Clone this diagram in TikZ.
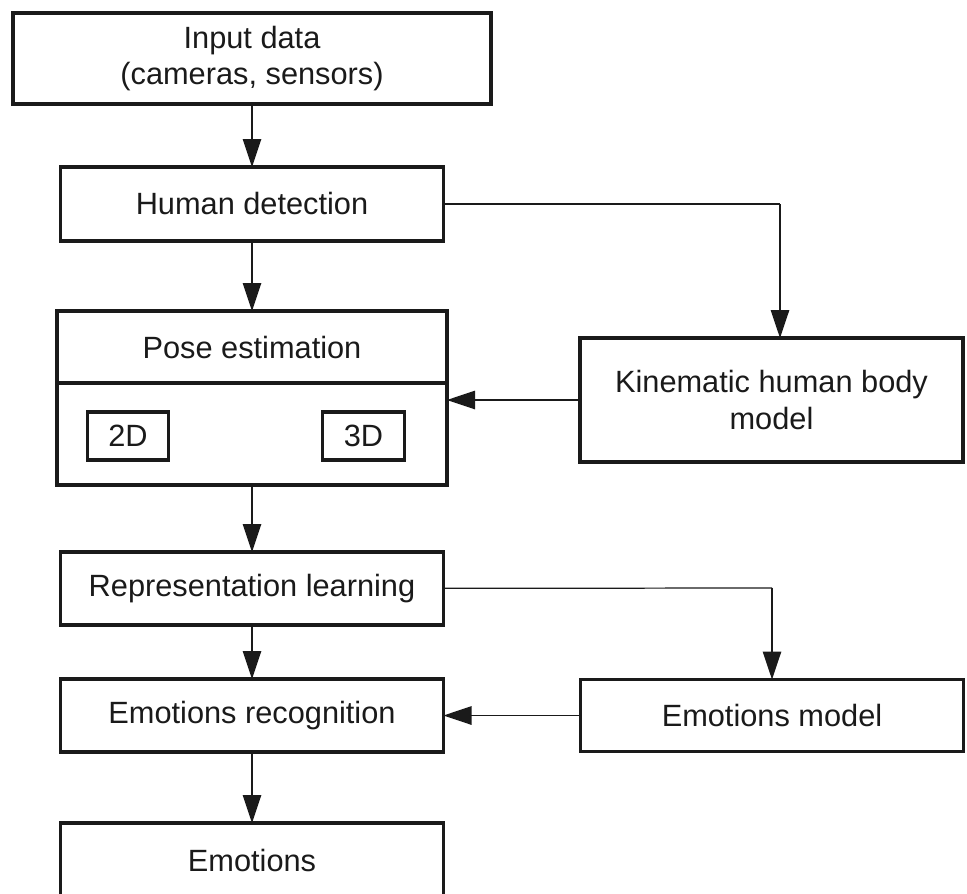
\documentclass[tikz,border=0pt]{standalone}
\usepackage{fontspec}
\setmainfont{Liberation Sans}
\usetikzlibrary{arrows.meta}
\definecolor{ink}{HTML}{1A1A1A}
\begin{document}
\begin{tikzpicture}[
  box/.style={rectangle,draw=ink,line width=1.8pt,align=center,
    outer sep=0,minimum width=7.66cm,
    minimum height=1.48cm,
    text=ink},
  subbox/.style={rectangle,draw=ink,line width=1.8pt,align=center,
    outer sep=0,minimum width=1.63cm,
    minimum height=0.96cm,
    text=ink},
  conn/.style={draw=ink,line width=0.7pt},
  >={Triangle[length=0.56cm,width=0.37cm]}]
  \fontsize{17.5}{21}\selectfont
  \useasboundingbox (0,0) rectangle (19.34,-17.86);
  \clip (0,0) rectangle (19.34,-17.86);
  \node[box,minimum width=9.56cm,minimum height=1.82cm] (input) at (5.04,-1.17) {Input data\\(cameras, sensors)};
  \node[box] (human) at (5.04,-4.08) {Human detection};
  \node[box,minimum width=7.8cm,minimum height=3.48cm] (pose) at (5.04,-7.96) {};
  \node[text=ink] (posetitle) at (5.04,-6.94) {Pose estimation};
  \node[subbox] (pose2d) at (2.56,-8.72) {2D};
  \node[subbox] (pose3d) at (7.27,-8.72) {3D};
  \node[box,minimum height=2.48cm] (kin) at (15.43,-8.0) {Kinematic human body\\model};
  \node[box,minimum height=1.46cm] (rep) at (5.04,-11.77) {Representation learning};
  \node[box,minimum height=1.46cm] (emorec) at (5.04,-14.31) {Emotions recognition};
  \node[box,minimum height=1.44cm] (emomod) at (15.44,-14.31) {Emotions model};
  \node[box] (emo) at (5.04,-17.2) {};
  \node[text=ink] (emotext) at (5.04,-17.2) {Emotions};
  \coordinate (d1) at (pose.west |- 0,-7.66);
  \coordinate (d2) at (pose.east |- 0,-7.66);
  \coordinate (j1) at (15.6,-4.08);
  \coordinate (j2) at (15.6,-6.76);
  \coordinate (j3) at (15.44,-11.76);
  \draw[line width=1.8pt,draw=ink] (d1) -- (d2);
  \draw[conn,->] (input) -- (human);
  \draw[conn,->] (human) -- (pose);
  \draw[conn] (human) -- (j1);
  \draw[conn,->] (j1) -- (j2);
  \draw[conn,->] (kin.west) -- (kin.west -| pose.east);
  \draw[conn,->] (pose) -- (rep);
  \draw[conn] (rep) -- (j3);
  \draw[conn,->] (j3) -- (emomod);
  \draw[conn,->] (rep) -- (emorec);
  \draw[conn,->] (emomod) -- (emorec);
  \draw[conn,->] (emorec) -- (emo);
\end{tikzpicture}
\end{document}
